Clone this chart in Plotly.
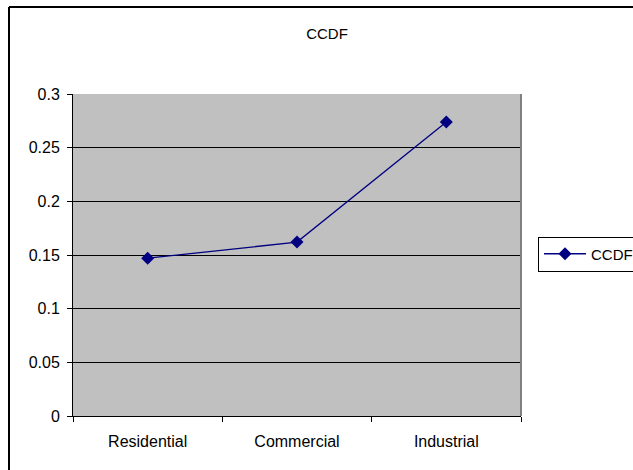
import plotly.graph_objects as go

categories = ["Residential", "Commercial", "Industrial"]
ccdf_values = [0.147, 0.162, 0.274]
series_name = "CCDF"
y_ticks = [0, 0.05, 0.1, 0.15, 0.2, 0.25, 0.3]
y_tick_labels = ["0", "0.05", "0.1", "0.15", "0.2", "0.25", "0.3"]

FONT = "Liberation Sans, Arial, sans-serif"
NAVY = "#000080"

fig = go.Figure()
fig.add_trace(go.Scatter(
    x=categories,
    y=ccdf_values,
    name=series_name,
    mode="lines+markers",
    line=dict(color=NAVY, width=1.3),
    marker=dict(symbol="diamond", size=10, color=NAVY),
    showlegend=True,
))

fig.update_layout(
    width=633,
    height=470,
    margin=dict(l=73, r=112, t=94, b=54, autoexpand=False),
    paper_bgcolor="white",
    plot_bgcolor="#C0C0C0",
    font=dict(family=FONT, size=16, color="black"),
    title=dict(text="CCDF", x=327 / 633, xanchor="center",
               y=1 - 34 / 470, yanchor="middle",
               font=dict(family=FONT, size=15, color="black")),
    showlegend=True,
    legend=dict(
        x=(538 - 73) / 448, xanchor="left",
        y=(416 - 254) / 322, yanchor="middle",
        bgcolor="white", bordercolor="black", borderwidth=1,
        font=dict(family=FONT, size=15, color="black"),
        itemwidth=42,
        tracegroupgap=0,
    ),
    xaxis=dict(
        type="category",
        range=[-0.5, 2.5],
        tickson="boundaries",
        ticks="outside",
        ticklen=5,
        tickcolor="black",
        showline=True,
        linecolor="black",
        linewidth=1,
        showgrid=False,
        zeroline=False,
        ticklabelstandoff=11,
        tickfont=dict(family=FONT, size=16, color="black"),
    ),
    yaxis=dict(
        range=[0, 0.3],
        tickvals=y_ticks,
        ticktext=y_tick_labels,
        ticks="outside",
        ticklen=5,
        tickcolor="black",
        showline=True,
        linecolor="black",
        linewidth=1,
        showgrid=True,
        gridcolor="black",
        gridwidth=1,
        zeroline=False,
        ticklabelstandoff=4,
        tickfont=dict(family=FONT, size=16, color="black"),
    ),
)

# grey frame on the right edge of the plot area
fig.add_shape(type="line", xref="paper", yref="paper", x0=1, x1=1, y0=0, y1=1,
              line=dict(color="#808080", width=2), layer="above")

# outer chart-area border (left and top edges)
x_left = (9 - 73) / 448
y_top = (416 - 7) / 322
fig.add_shape(type="line", xref="paper", yref="paper", x0=x_left, x1=x_left,
              y0=-1, y1=y_top, line=dict(color="black", width=2))
fig.add_shape(type="line", xref="paper", yref="paper", x0=x_left, x1=2,
              y0=y_top, y1=y_top, line=dict(color="black", width=2))

fig.write_html("out.html")
